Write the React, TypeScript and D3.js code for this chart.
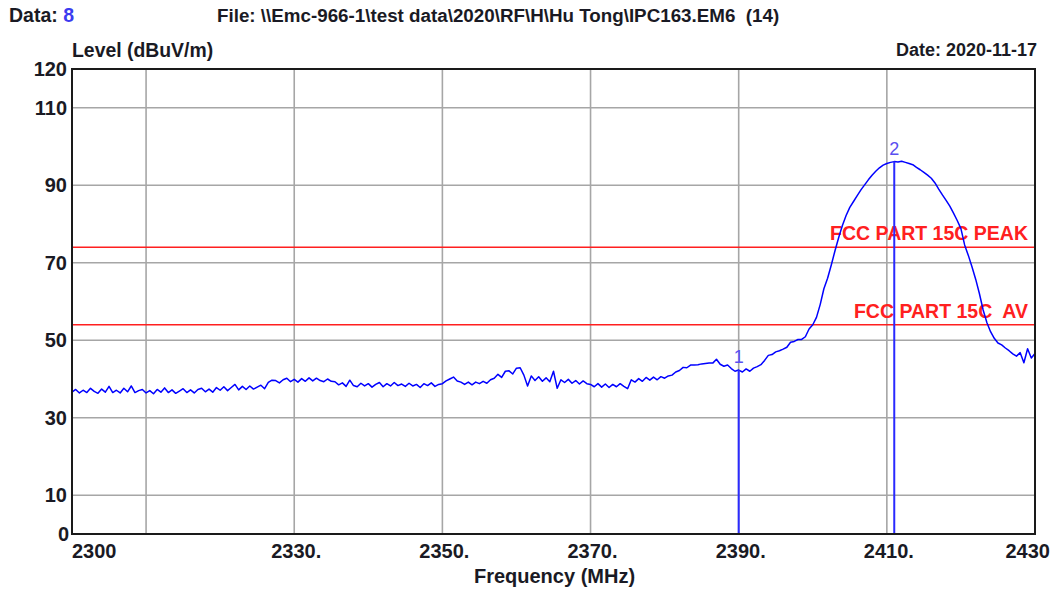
import React from "react";
import * as d3 from "d3";

// ---------- data ----------
const FREQ_START = 2300; // MHz, first sweep point
const FREQ_STEP = 0.5; // MHz between sweep points
// Level (dBuV/m), one row per 5 MHz, 2300 .. 2430
const levels: number[] = [
  36.6, 37.3, 36.4, 37.1, 36.5, 37.6, 36.8, 36.3, 37.4, 36.6,
  38.1, 36.5, 37.1, 36.4, 37.6, 36.7, 38.2, 36.5, 37.0, 37.3,
  36.4, 37.0, 36.2, 37.3, 36.6, 37.7, 36.5, 37.2, 36.3, 36.9,
  37.5, 36.5, 37.2, 36.4, 37.3, 37.6, 36.7, 37.4, 36.6, 37.8,
  37.1, 38.0, 37.0, 37.8, 38.6, 37.2, 38.1, 37.3, 38.2, 37.4,
  37.9, 38.4, 37.5, 39.1, 39.7, 39.6, 39.0, 39.8, 40.2, 39.3,
  39.9, 39.2, 40.1, 39.4, 40.3, 39.5, 40.2, 39.6, 39.3, 40.0,
  39.4, 39.3, 38.5, 39.0, 38.1, 39.7, 38.3, 38.0, 38.9, 38.2,
  38.8, 37.9, 38.6, 39.1, 38.0, 38.8, 38.2, 39.1, 38.3, 38.7,
  38.1, 38.9, 38.2, 38.6, 37.8, 38.8, 38.3, 39.0, 38.1, 38.6,
  38.8, 39.5, 40.0, 40.5, 39.5, 39.2, 38.6, 39.2, 38.5, 39.2,
  38.8, 39.4, 38.9, 39.8, 40.2, 41.2, 40.4, 42.0, 42.1, 41.3,
  42.8, 42.9, 41.0, 38.2, 40.8, 39.6, 40.6, 39.4, 40.3, 39.3,
  42.0, 37.6, 39.8, 39.1, 39.9, 38.9, 39.6, 38.7, 39.5, 38.8,
  38.6, 38.0, 38.8, 37.9, 38.7, 37.8, 38.6, 38.0, 38.8, 38.1,
  37.5, 39.8, 39.2, 40.1, 39.4, 40.4, 39.7, 40.5, 39.8, 40.6,
  40.2, 40.8, 41.0, 41.8, 42.2, 43.0, 42.9, 43.6, 43.6, 43.7,
  43.9, 44.0, 44.1, 44.1, 45.1, 43.8, 43.3, 43.6, 42.7, 42.0,
  42.3, 41.8, 42.6, 42.0, 42.8, 43.2, 43.7, 44.8, 46.1, 46.3,
  47.0, 47.3, 47.7, 48.2, 49.5, 49.7, 50.2, 50.2, 50.9, 52.9,
  54.0, 55.9, 59.2, 63.3, 66.0, 69.4, 73.1, 76.5, 79.6, 82.2,
  84.3, 85.8, 87.3, 88.8, 90.1, 91.4, 92.6, 93.6, 94.5, 95.2,
  95.6, 95.9, 96.1, 96.0, 96.2, 95.9, 95.6, 95.3, 94.6, 94.0,
  93.3, 92.6, 91.8, 90.6, 89.0, 87.5, 86.1, 84.6, 82.8, 80.9,
  78.8, 74.6, 71.9, 68.9, 65.7, 62.0, 57.8, 54.6, 52.2, 50.5,
  49.3, 48.8, 48.0, 47.3, 46.5, 45.9, 46.8, 44.2, 47.8, 45.4,
  46.6,
];

const xTickValues = [2300, 2330, 2350, 2370, 2390, 2410, 2430];
const xTickLabels = ["2300", "2330.", "2350.", "2370.", "2390.", "2410.", "2430"];
const xGridValues = [2310, 2330, 2350, 2370, 2390, 2410];
const yTickValues = [0, 10, 30, 50, 70, 90, 110, 120];
const yGridValues = [10, 30, 50, 70, 90, 110];

const limitLabels = ["FCC PART 15C PEAK", "FCC PART 15C  AV"];
const limitValues = [74, 54];

const markerIds = ["1", "2"];
const markerFreqs = [2390, 2411];
const markerLevels = [42.3, 96.1];

// ---------- layout ----------
const W = 1055;
const H = 592;
const X0 = 72;
const X1 = 1035;
const Y0 = 534;
const Y1 = 69;
const FONT = "'Liberation Sans', Arial, sans-serif";
const TEXT = "#1a1a24";

export default function App() {
  const x = d3.scaleLinear().domain([2300, 2430]).range([X0, X1]);
  const y = d3.scaleLinear().domain([0, 120]).range([Y0, Y1]);

  const points: [number, number][] = levels.map((v, i) => [FREQ_START + i * FREQ_STEP, v]);
  const line = d3
    .line<[number, number]>()
    .x((d) => x(d[0]))
    .y((d) => y(d[1]));

  return (
    <svg
      width={W}
      height={H}
      style={{ position: "absolute", left: 0, top: 0, background: "#fff" }}
      fontFamily={FONT}
    >
      <rect x={0} y={0} width={W} height={H} fill="#fff" />
      {/* header */}
      <text x={9} y={22} fontSize={19.5} fontWeight="bold" fill={TEXT}>
        Data: <tspan fill="#3b3bf0">8</tspan>
      </text>
      <text x={217} y={22} fontSize={18.8} fontWeight="bold" fill={TEXT} style={{ whiteSpace: "pre" }}>
        {"File: \\\\Emc-966-1\\test data\\2020\\RF\\H\\Hu Tong\\IPC163.EM6  (14)"}
      </text>
      <text x={X0} y={57} fontSize={19.4} fontWeight="bold" fill={TEXT}>
        Level (dBuV/m)
      </text>
      <text x={1037} y={56} fontSize={18} fontWeight="bold" fill={TEXT} textAnchor="end">
        Date: 2020-11-17
      </text>

      {/* grid */}
      {xGridValues.map((v) => (
        <line key={"gx" + v} x1={x(v)} x2={x(v)} y1={Y1} y2={Y0} stroke="#a6a6a6" strokeWidth={1.6} />
      ))}
      {yGridValues.map((v) => (
        <line key={"gy" + v} x1={X0} x2={X1} y1={y(v)} y2={y(v)} stroke="#a6a6a6" strokeWidth={1.6} />
      ))}

      {/* limit lines */}
      {limitValues.map((v, i) => (
        <g key={"lim" + i}>
          <line x1={X0} x2={X1} y1={y(v)} y2={y(v)} stroke="#ff1f1f" strokeWidth={1.6} />
          <text
            x={1028}
            y={y(v) - 7}
            fontSize={19.5}
            fontWeight="bold"
            fill="#ff2020"
            textAnchor="end"
            style={{ whiteSpace: "pre" }}
          >
            {limitLabels[i]}
          </text>
        </g>
      ))}

      {/* trace */}
      <path d={line(points) || ""} fill="none" stroke="#0000ff" strokeWidth={1.5} strokeLinejoin="round" />

      {/* markers */}
      {markerFreqs.map((f, i) => (
        <g key={"m" + i}>
          <line x1={x(f)} x2={x(f)} y1={Y0} y2={y(markerLevels[i])} stroke="#2a2aff" strokeWidth={2} />
          <text x={x(f)} y={y(markerLevels[i]) - 7} fontSize={18} fill="#5a4ff0" textAnchor="middle">
            {markerIds[i]}
          </text>
        </g>
      ))}

      {/* frame */}
      <rect x={X0} y={Y1} width={X1 - X0} height={Y0 - Y1} fill="none" stroke="#1a1a1a" strokeWidth={2} />

      {/* y tick labels */}
      {yTickValues.map((v) => (
        <text
          key={"yt" + v}
          x={v === 0 ? 69 : 67}
          y={y(v)}
          dy="0.36em"
          fontSize={20}
          fontWeight="bold"
          fill={TEXT}
          textAnchor="end"
        >
          {v}
        </text>
      ))}

      {/* x tick labels */}
      {xTickValues.map((v, i) => {
        const first = i === 0;
        const last = i === xTickValues.length - 1;
        return (
          <text
            key={"xt" + v}
            x={first ? X0 : last ? 1050 : x(v) + 2}
            y={558}
            fontSize={20}
            fontWeight="bold"
            fill={TEXT}
            textAnchor={first ? "start" : last ? "end" : "middle"}
          >
            {xTickLabels[i]}
          </text>
        );
      })}
      <text x={(X0 + X1) / 2 + 1} y={583} fontSize={20} fontWeight="bold" fill={TEXT} textAnchor="middle">
        Frequency (MHz)
      </text>
    </svg>
  );
}
